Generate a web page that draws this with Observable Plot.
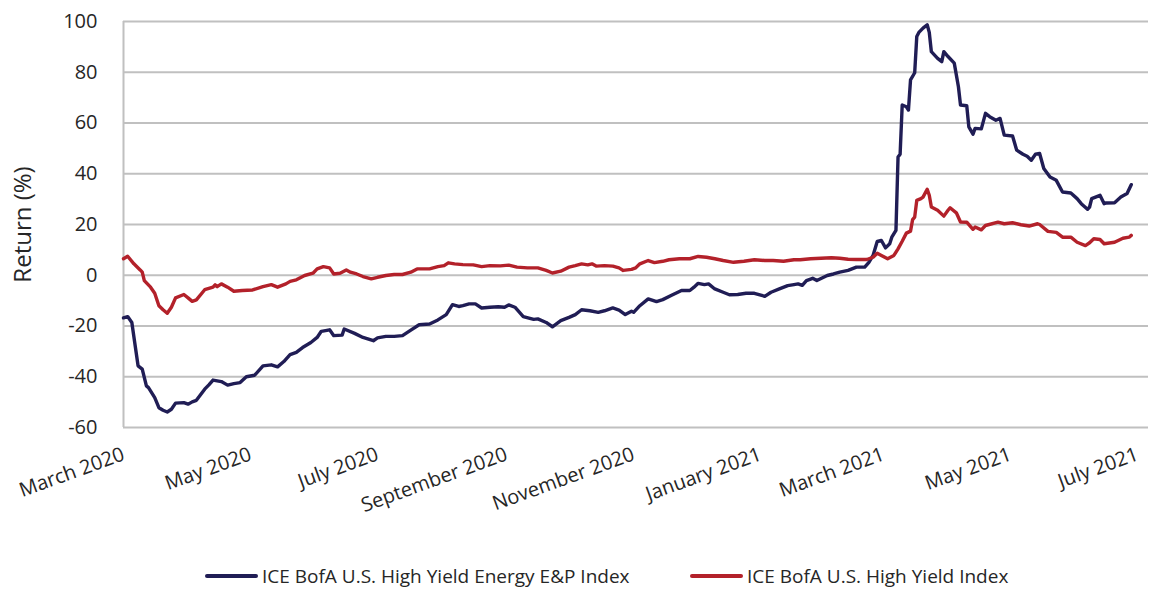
<!DOCTYPE html>
<html>
<head>
<meta charset="utf-8">
<script src="https://cdn.jsdelivr.net/npm/d3@7"></script>
<script src="https://cdn.jsdelivr.net/npm/@observablehq/plot@0.6"></script>
<style>
  html, body { margin: 0; padding: 0; background: #fff; }
  body { width: 1149px; height: 590px; overflow: hidden; font-family: "Open Sans", sans-serif; }
  #legend { position: relative; height: 70px; width: 1149px; }
  .item { position: absolute; top: 43px; display: flex; align-items: center; font-size: 19px; color: #262626; white-space: nowrap; }
  .sw { width: 53px; height: 4px; margin-right: 4px; border-radius: 2px; }
</style>
</head>
<body>
<div id="chart"></div>
<div id="legend"></div>
<script>
// Dates are given as days after 1 March 2020
const startDate = "2020-03-01";
const endDate = "2021-07-06T07:00:00Z";

const seriesNames = ["ICE BofA U.S. High Yield Energy E&P Index", "ICE BofA U.S. High Yield Index"];
const seriesColors = ["#201d55", "#b3212a"];

// ICE BofA U.S. High Yield Energy E&P Index, return (%)
const epDays = [0,2,4,7,9,11,12,15,17,19,21,23,25,29,31,33,35,39,41,43,47,50,53,56,59,63,67,71,74,77,80,83,86,90,93,95,99,101,105,106,111,115,120,122,126,130,134,138,142,147,151,155,158,161,163,166,169,172,176,180,183,185,188,192,197,199,203,206,210,214,217,220,224,228,231,235,238,241,244,245,248,252,256,259,263,268,272,274,276,279,281,284,288,291,295,299,303,308,311,315,319,322,324,326,328,331,333,338,341,344,348,352,356,358,360,362,364,366,368,369,371,372,373,374,376,377,378,380,381,382,384,386,387,388,391,393,394,396,399,401,402,405,406,408,409,412,414,416,419,421,423,427,429,432,434,436,438,440,442,445,448,451,455,458,460,463,464,465,469,471,472,476,479,482,484];
const epValues = [-16.8,-16.3,-18.6,-35.7,-37,-43.6,-44.3,-48.2,-52.2,-53.2,-53.9,-52.8,-50.4,-50.2,-50.8,-49.9,-49.3,-44.9,-43.2,-41.3,-41.9,-43.3,-42.7,-42.3,-40,-39.4,-35.7,-35.3,-36.1,-34,-31.3,-30.4,-28.5,-26.5,-24.5,-22.1,-21.5,-23.8,-23.6,-21.2,-22.9,-24.5,-25.8,-24.7,-24.1,-24.1,-23.8,-21.6,-19.5,-19.2,-17.6,-15.5,-11.6,-12.3,-12,-11.3,-11.3,-12.9,-12.6,-12.4,-12.6,-11.7,-12.6,-16.3,-17.4,-17.2,-18.6,-20.3,-17.9,-16.6,-15.5,-13.6,-14,-14.6,-14,-12.9,-13.7,-15.5,-14.2,-14.6,-12,-9.3,-10.4,-9.6,-8,-6,-6,-4.7,-3.2,-3.7,-3.4,-5.4,-6.7,-7.7,-7.6,-7.1,-7.1,-8.3,-6.7,-5.4,-4.1,-3.7,-3.4,-4.0,-2.1,-1.2,-2.1,-0.1,0.5,1.2,1.9,3.2,3.2,5.1,7.8,13.3,13.7,10.8,12.4,15,17.7,46.6,47.7,67.1,66.4,65.1,77,79.8,94.1,95.7,97.4,98.7,95.7,88.1,85.5,84.2,88.1,86.2,83.6,74.3,67.1,66.8,58.5,55.6,57.9,57.7,63.8,62.5,61.1,61.8,55.2,54.9,49.3,47.7,46.9,45.3,47.7,48.0,42.1,38.7,37.4,32.8,32.4,30.2,28.2,26.0,26.9,30.2,31.5,28.2,28.5,28.6,30.8,32.2,35.7];

// ICE BofA U.S. High Yield Index, return (%)
const hyDays = [0,2,5,8,9,10,13,15,17,19,21,23,25,29,31,33,35,39,43,44,45,47,50,53,57,62,67,71,74,78,80,83,87,91,93,96,99,101,104,107,109,112,115,119,122,126,130,134,138,141,147,151,154,156,159,163,168,172,176,181,185,189,194,199,203,206,210,214,217,220,223,225,227,231,235,238,240,244,246,248,252,255,259,262,267,272,276,280,284,288,293,298,303,308,312,317,322,325,330,335,340,344,348,352,357,360,362,364,367,370,372,374,376,378,379,380,381,383,384,386,387,388,391,394,396,397,400,402,405,408,409,412,414,420,423,427,431,435,439,440,444,448,451,455,458,462,464,466,469,471,476,480,483,484];
const hyValues = [6.5,7.5,4.5,2.1,1.2,-2.1,-4.7,-7.1,-12,-13.6,-15,-12.6,-8.9,-7.6,-8.9,-10.3,-9.7,-5.7,-4.7,-3.8,-4.5,-3.4,-4.7,-6.3,-6,-5.8,-4.5,-3.7,-4.7,-3.4,-2.4,-1.8,-0.1,0.8,2.5,3.4,2.9,0.5,0.8,2.1,1.2,0.5,-0.5,-1.4,-0.8,-0.1,0.3,0.3,1.2,2.5,2.5,3.4,3.8,4.9,4.5,4.2,4.1,3.4,3.8,3.7,4.0,3.2,2.9,2.9,1.9,0.9,1.6,3.2,3.8,4.5,4.1,4.5,3.6,3.8,3.6,2.9,1.9,2.3,2.9,4.5,5.8,5.0,5.5,6.1,6.5,6.5,7.4,7.1,6.5,5.8,5.1,5.5,6.1,5.8,5.8,5.5,6.1,6.1,6.5,6.7,6.9,6.7,6.3,6.2,6.2,7.1,8.7,7.8,6.5,7.8,10.4,13.4,16.6,17.4,21.9,22.9,29.5,30.2,30.8,33.9,31.5,26.9,25.6,23.3,25.6,26.6,24.6,21,20.9,18.1,19.0,17.9,19.6,20.9,20.3,20.7,19.9,19.4,20.3,20.0,17.3,16.9,15.0,15.0,13.0,11.7,12.8,14.4,14.1,12.4,13.0,14.6,15.0,15.7];

const yTicks = [-60, -40, -20, 0, 20, 40, 60, 80, 100];
const xTicks = ["2020-03-01","2020-05-01","2020-07-01","2020-09-01","2020-11-01","2021-01-01","2021-03-01","2021-05-01","2021-07-01"];
const yLabel = "Return (%)";

const start = new Date(startDate);
const toRows = (days, values, series) => days.map((d, i) => ({date: d3.utcDay.offset(start, d), value: values[i], series}));
const rows = [
  ...toRows(epDays, epValues, seriesNames[0]),
  ...toRows(hyDays, hyValues, seriesNames[1])
];

const chart = Plot.plot({
  width: 1149,
  height: 520,
  marginLeft: 123,
  marginRight: 1,
  marginTop: 21,
  marginBottom: 93,
  style: {fontFamily: "'Open Sans', sans-serif", fontSize: "20px", color: "#262626", background: "#fff"},
  x: {type: "utc", domain: [start, new Date(endDate)]},
  y: {domain: [-60, 100]},
  color: {domain: seriesNames, range: seriesColors},
  marks: [
    Plot.ruleY(yTicks, {stroke: "#c0c0c0", strokeWidth: 2}),
    Plot.ruleX([start], {stroke: "#c0c0c0", strokeWidth: 2}),
    Plot.axisY({ticks: yTicks, tickFormat: d => String(d), tickSize: 0, tickPadding: 26, label: null, fontSize: 20}),
    Plot.axisX({ticks: xTicks.map(d => new Date(d)), tickFormat: d3.utcFormat("%B %Y"), tickRotate: -20, tickSize: 0, tickPadding: 26, label: null, fontSize: 20}),
    Plot.line(rows, {x: "date", y: "value", z: "series", stroke: "series", strokeWidth: 3.4, strokeLinejoin: "round", strokeLinecap: "round"}),
    Plot.text([yLabel], {text: d => d, frameAnchor: "left", textAnchor: "middle", lineAnchor: "middle", dx: -100, rotate: -90, fontSize: 24, fill: "#262626"})
  ]
});
document.getElementById("chart").appendChild(chart);

const legend = document.getElementById("legend");
const lefts = [205, 690];
seriesNames.forEach((name, i) => {
  const item = document.createElement("div");
  item.className = "item";
  item.style.left = lefts[i] + "px";
  const sw = document.createElement("span");
  sw.className = "sw";
  sw.style.background = seriesColors[i];
  const t = document.createElement("span");
  t.textContent = name;
  item.appendChild(sw);
  item.appendChild(t);
  legend.appendChild(item);
});
</script>
</body>
</html>
